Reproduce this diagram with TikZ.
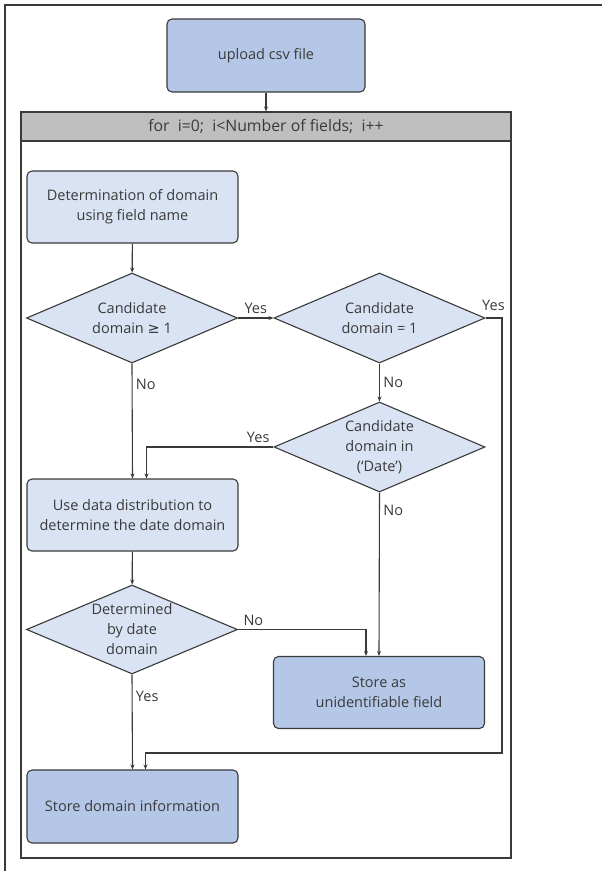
\documentclass[tikz,border=0pt]{standalone}
\usepackage{fontspec}
\setmainfont{Open Sans}
\newfontfamily\symfont{DejaVu Sans}
\usetikzlibrary{arrows.meta,shapes.geometric,positioning,calc}

\definecolor{boxdark}{HTML}{B4C7E7}
\definecolor{boxlight}{HTML}{DAE3F3}
\definecolor{headgray}{HTML}{BFBFBF}
\definecolor{edgegray}{HTML}{3A3A3A}

\tikzset{
	every node/.style={font=\fontsize{14.5}{20}\selectfont, text=edgegray},
	procbox/.style={draw=edgegray, line width=1.1pt, rounded corners=5pt, minimum width=211pt, minimum height=72pt, align=center, inner sep=2pt},
	darkbox/.style={procbox, fill=boxdark},
	lightbox/.style={procbox, fill=boxlight},
	decision/.style={draw=edgegray, line width=1.1pt, diamond, aspect=2.33, minimum width=211pt, minimum height=90pt, inner sep=0pt, fill=boxlight, align=center},
	flow/.style={draw=edgegray, line width=1.1pt, -{Stealth[length=5pt,width=4pt]}},
	answer/.style={font=\fontsize{14.5}{17}\selectfont}
}

\begin{document}
\begin{tikzpicture}[x=1pt,y=-1pt]
				\useasboundingbox (0,0) rectangle (602,871);
				\draw[edgegray, line width=1.1pt] (602,5) -- (5,5) -- (5,871);
				\node[draw=edgegray, line width=1.1pt, minimum width=490pt, minimum height=746pt, inner sep=0pt] (loopframe) at (266,485) {};
				\node[draw=edgegray, line width=1.1pt, fill=headgray, minimum width=490pt, minimum height=29pt, inner sep=0pt, font=\fontsize{15.8}{18}\selectfont] (loophead) at (266,126.5) {for\ \ i=0;\ \ i<Number of fields;\ \ i++};
				\node[darkbox, minimum width=198pt, minimum height=73pt] (upload) at (266,55.5) {upload csv file};
				\node[lightbox] (fieldname) at (132.5,207) {Determination of domain\\using field name};
				\node[decision] (cand1) at (132,318) {Candidate\\domain {\symfont ≥} 1};
				\node[decision] (cand2) at (379.5,318) {Candidate\\domain = 1};
				\node[decision] (cand3) at (379.5,447) {Candidate\\domain in\\(`Date')};
				\node[lightbox] (distrib) at (132.5,515) {Use data distribution to\\determine the date domain};
				\node[decision, minimum height=89pt] (bydate) at (132,629.5) {Determined\\by date\\domain};
				\node[darkbox] (unident) at (379,692.5) {Store as\\unidentifiable field};
				\node[darkbox, minimum height=73pt] (storeinfo) at (132.5,806.5) {Store domain information};

				\draw[flow] (upload) -- (loophead);
				\draw[flow] (fieldname) -- (cand1);
				\draw[flow] (cand1.east) -- (cand2.west) node[answer, above, midway] {Yes};
				\draw[flow] (cand2.east) -| node[answer, above, pos=0.24, yshift=3pt] {Yes} (502,753) -| ([xshift=13pt]storeinfo.north);
				\draw[flow] (cand1.south) -- (distrib.north) node[answer, right, pos=0.18] {No};
				\draw[flow] (cand2.south) -- (cand3.north) node[answer, right, midway] {No};
				\draw[flow] (cand3.west) -| ([xshift=14pt]distrib.north) node[answer, above, pos=0.06] {Yes};
				\draw[flow] (cand3.south) -- (unident.north) node[answer, right, pos=0.11] {No};
				\draw[flow] (distrib) -- (bydate);
				\draw[flow] (bydate.east) -| ([xshift=-13pt]unident.north) node[answer, above, pos=0.06] {No};
				\draw[flow] (bydate.south) -- (storeinfo.north) node[answer, right, pos=0.23] {Yes};
			\end{tikzpicture}
\end{document}
